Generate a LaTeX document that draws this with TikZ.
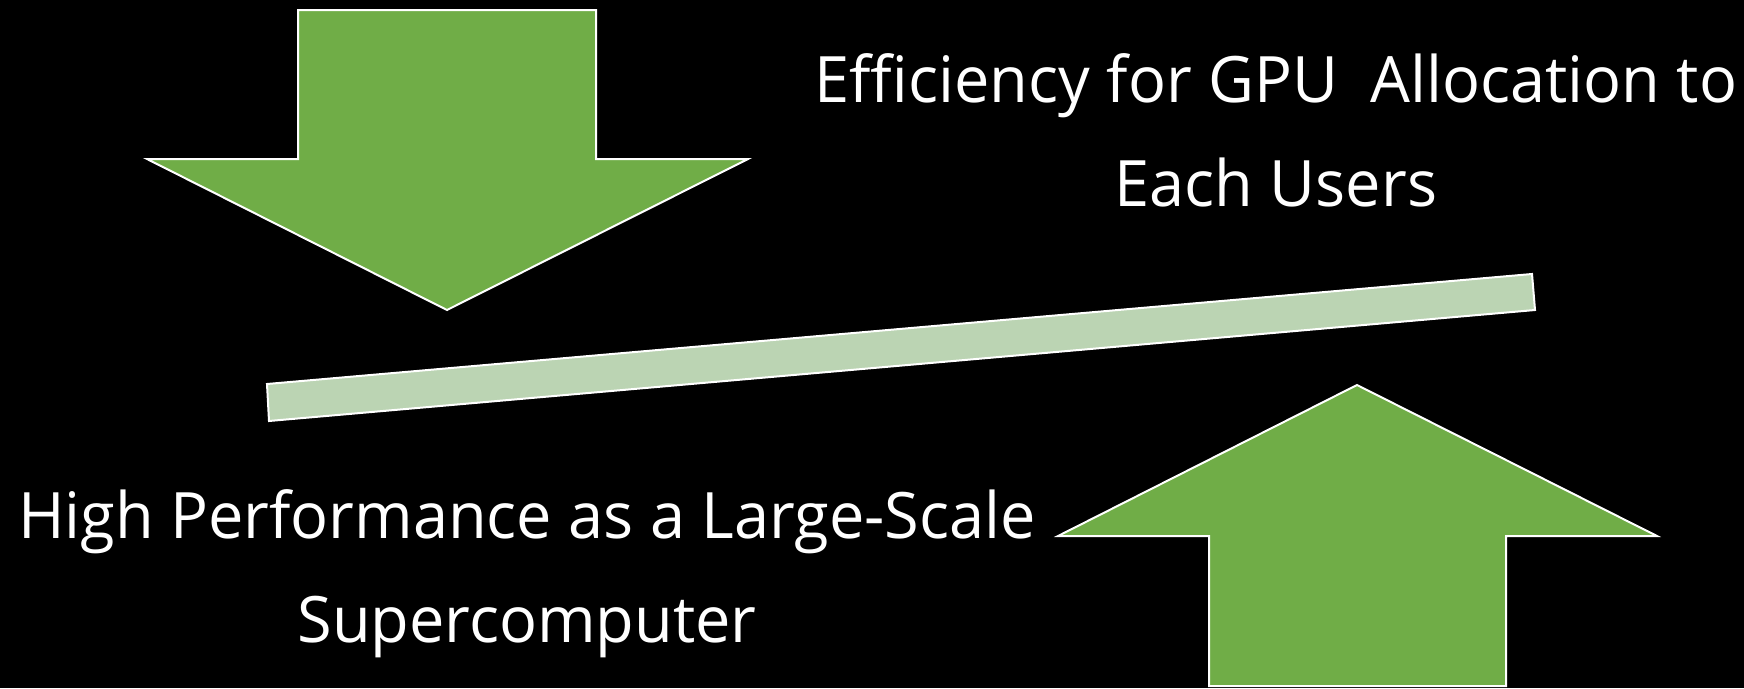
\documentclass[tikz,border=0pt]{standalone}
\usepackage{fontspec}
\setmainfont[FakeStretch=0.985]{Open Sans}
\definecolor{arrowgreen}{HTML}{70AD47}
\definecolor{barfill}{HTML}{BBD4B3}
\tikzset{
  arrowshape/.style={fill=arrowgreen, draw=white, line width=2pt, line join=miter},
  barshape/.style={fill=barfill, draw=white, line width=2pt},
  label/.style={text=white, font=\fontsize{64}{104}\selectfont, align=center, inner sep=0pt, anchor=base}
}
\begin{document}
\begin{tikzpicture}[x=1pt,y=-1pt]
\fill[black] (0,0) rectangle (1744,688);
\useasboundingbox (0,0) rectangle (1744,688);
% down arrow
\draw[arrowshape] (298,10) -- (596,10) -- (596,159) -- (748,159) -- (447,310) -- (147,159) -- (298,159) -- cycle;
% up arrow
\draw[arrowshape] (1357,385) -- (1657,536) -- (1506,536) -- (1506,686) -- (1209,686) -- (1209,536) -- (1058,536) -- cycle;
% tilted bar
\draw[barshape] (267,384) -- (1532,274) -- (1535,310) -- (269,421) -- cycle;
% texts (anchored at the baseline of the last line)
\node[label] (top) at (1276,206) {Efficiency for GPU\ \ Allocation to\\Each Users};
\node[label] (bottom) at (527,642) {High Performance as a Large-Scale\\Supercomputer};
\end{tikzpicture}
\end{document}
